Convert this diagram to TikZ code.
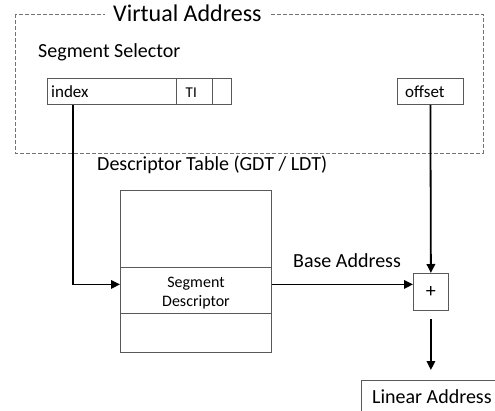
\documentclass[tikz,border=0pt]{standalone}
\usepackage{fontspec}
\setmainfont{Carlito}
\usetikzlibrary{arrows.meta}

\begin{document}
\begin{tikzpicture}[x=1pt,y=1pt,
  cell/.style={draw=black!65, line width=0.8pt, inner sep=0pt, anchor=north west},
  lbl/.style={inner sep=0pt, anchor=base west},
  conn/.style={line width=1.8pt, -{Triangle[length=9pt,width=8.5pt]}},
  frame/.style={draw=black!55, line width=0.7pt, dash pattern=on 4pt off 2pt}
]
\useasboundingbox (0,0) rectangle (495,-410);
\clip (0,0) rectangle (495,-410);

% dashed outline of the virtual address
\draw[frame] (15,-14) rectangle (483,-153);
\node[fill=white, inner xsep=8pt, inner ysep=2pt, anchor=base west, font=\fontsize{24}{28}\selectfont]
  (vaddr) at (105,-21) {Virtual Address};

\node[lbl, font=\fontsize{20}{24}\selectfont] (selector) at (38,-57) {Segment Selector};

% selector fields
\node[cell, minimum width=129pt, minimum height=26pt] (index) at (47,-78) {};
\node[cell, minimum width=36pt, minimum height=26pt] (ti) at (176,-78) {};
\node[cell, minimum width=19pt, minimum height=26pt] (rpl) at (212,-78) {};
\node[lbl, font=\fontsize{17}{20}\selectfont] (indextxt) at (51,-97) {index};
\node[lbl, font=\fontsize{15}{18}\selectfont] (titxt) at (185.5,-97) {TI};

\node[cell, minimum width=66pt, minimum height=26pt] (offset) at (397,-78) {};
\node[lbl, font=\fontsize{17}{20}\selectfont] (offsettxt) at (405,-97) {offset};

% descriptor table
\node[lbl, font=\fontsize{20}{24}\selectfont] (tabletitle) at (97,-170) {Descriptor Table (GDT / LDT)};
\node[cell, minimum width=151pt, minimum height=77pt] (tabtop) at (120,-190) {};
\node[cell, minimum width=151pt, minimum height=46pt] (segdesc) at (120,-267) {};
\node[cell, minimum width=151pt, minimum height=39pt] (tabbot) at (120,-313) {};
\node[inner sep=0pt, anchor=base, align=center, font=\fontsize{16}{19}\selectfont]
  (segdesctxt) at (196,-306.5) {Segment\\Descriptor};

% adder and result
\node[cell, minimum width=35pt, minimum height=37pt, font=\fontsize{20}{24}\selectfont] (plus) at (413,-273) {+};
\node[cell, minimum width=160pt, minimum height=50pt] (linear) at (361,-380) {};
\node[lbl, font=\fontsize{20}{24}\selectfont] (lineartxt) at (372,-403) {Linear Address};

\node[lbl, font=\fontsize{20}{24}\selectfont] (basetxt) at (293,-267) {Base Address};

% connectors
\draw[conn] ([xshift=26pt]index.south west) |- ([yshift=6pt]segdesc.west);
\draw[conn] ([yshift=6pt]segdesc.east) -- ([yshift=6pt]segdesc.east -| plus.west);
\draw[conn] (offset.south) -- (plus.north);
\draw[conn, shorten <=8pt, shorten >=10pt] (plus.south) -- (plus.south |- linear.north);
\end{tikzpicture}
\end{document}
